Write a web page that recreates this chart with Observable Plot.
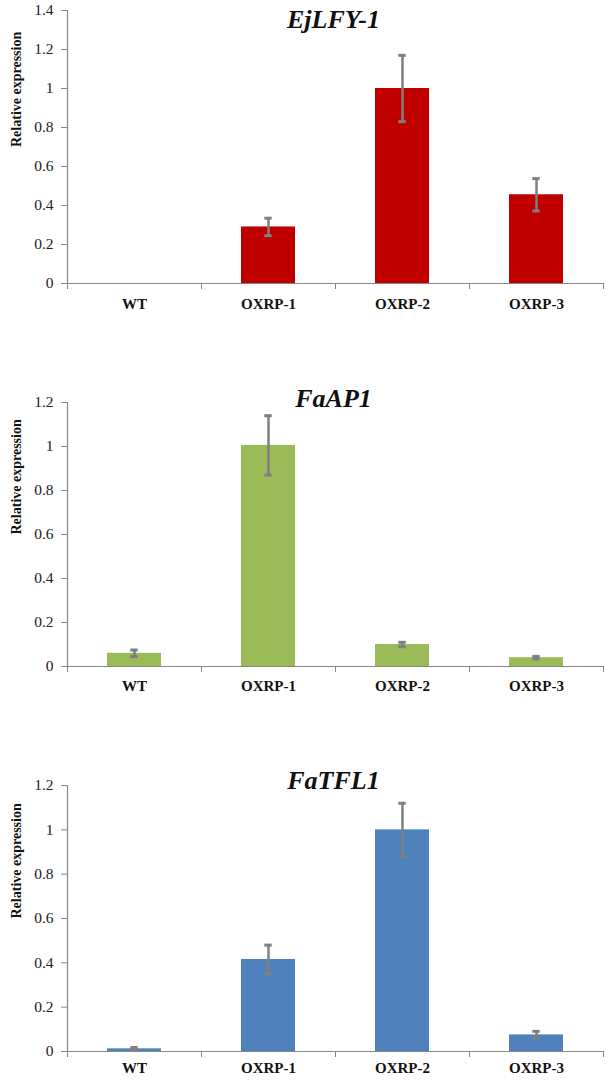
<!DOCTYPE html>
<html>
<head>
<meta charset="utf-8">
<script src="https://cdn.jsdelivr.net/npm/d3@7"></script>
<script src="https://cdn.jsdelivr.net/npm/@observablehq/plot@0.6"></script>
<style>
  html, body { margin: 0; padding: 0; background: #fff; }
  #charts { width: 606px; }
  #charts svg { display: block; }
  #charts svg, #charts svg text { font-family: "Liberation Serif", "Times New Roman", serif !important; }
</style>
</head>
<body>
<div id="charts"></div>
<script>
const categories = ["WT", "OXRP-1", "OXRP-2", "OXRP-3"];
const lfyValues = [0, 0.29, 1.0, 0.455];
const lfyErrors = [0, 0.045, 0.17, 0.083];
const ap1Values = [0.06, 1.005, 0.10, 0.04];
const ap1Errors = [0.015, 0.135, 0.01, 0.006];
const tflValues = [0.012, 0.415, 1.0, 0.075];
const tflErrors = [0.006, 0.065, 0.12, 0.016];
const yTicks14 = [0, 0.2, 0.4, 0.6, 0.8, 1, 1.2, 1.4];
const yTicks12 = [0, 0.2, 0.4, 0.6, 0.8, 1, 1.2];
const yLabel = "Relative expression";

const W = 606, ML = 67, MR = 3;
const step = (W - ML - MR) / categories.length;
const barPad = 0.6;
const capWidth = 7;
const capInset = (step * (1 - barPad) - capWidth) / 2;
const axisColor = "#868686";
const errColor = "#7f7f7f";
const font = "Liberation Serif";

const charts = [
  {title: "EjLFY-1", values: lfyValues, errors: lfyErrors, color: "#C00000", yMax: 1.4, ticks: yTicks14, height: 340, mt: 10, mb: 57, titleDy: 9, xPad: 15},
  {title: "FaAP1", values: ap1Values, errors: ap1Errors, color: "#9BBB59", yMax: 1.2, ticks: yTicks12, height: 360, mt: 62, mb: 34, titleDy: -4, xPad: 14},
  {title: "FaTFL1", values: tflValues, errors: tflErrors, color: "#4F81BD", yMax: 1.2, ticks: yTicks12, height: 380, mt: 85, mb: 29, titleDy: -5, xPad: 11}
];

const container = document.getElementById("charts");
for (const c of charts) {
  const rows = categories.map((k, i) => ({cat: k, v: c.values[i], e: c.errors[i]}));
  const errRows = rows.filter(d => d.e > 0);
  const plot = Plot.plot({
    width: W,
    height: c.height,
    marginLeft: ML,
    marginRight: MR,
    marginTop: c.mt,
    marginBottom: c.mb,
    style: {fontFamily: font, background: "#fff", color: "#222"},
    x: {domain: categories, paddingInner: barPad, paddingOuter: barPad / 2, axis: null},
    y: {domain: [0, c.yMax], axis: null},
    marks: [
      Plot.barY(rows, {x: "cat", y: "v", fill: c.color}),
      Plot.ruleX(errRows, {x: "cat", y1: d => d.v - d.e, y2: d => d.v + d.e, stroke: errColor, strokeWidth: 2.5}),
      Plot.tickY(errRows, {x: "cat", y: d => d.v + d.e, stroke: errColor, strokeWidth: 3, insetLeft: capInset, insetRight: capInset}),
      Plot.tickY(errRows, {x: "cat", y: d => d.v - d.e, stroke: errColor, strokeWidth: 3, insetLeft: capInset, insetRight: capInset}),
      // y axis line at left edge of first band
      Plot.ruleX([categories[0]], {x: d => d, y1: 0, y2: c.yMax, dx: -step / 2, stroke: axisColor, strokeWidth: 1.2}),
      Plot.axisY({ticks: c.ticks, tickFormat: d => String(d), tickSize: 6, tickPadding: 8, stroke: axisColor, fontSize: 15.5, label: null, fill: "#222", fontFamily: font}),
      // x axis
      Plot.ruleY([0], {stroke: axisColor, strokeWidth: 1.2}),
      Plot.axisX({ticks: categories, tickSize: 0, tickPadding: c.xPad, fontSize: 15, fontWeight: "bold", label: null, fill: "#111", fontFamily: font}),
      Plot.axisX({ticks: categories, tickSize: 6, tickFormat: () => "", dx: -step / 2, stroke: axisColor, label: null}),
      Plot.axisX({ticks: [categories[categories.length - 1]], tickSize: 6, tickFormat: () => "", dx: step / 2, stroke: axisColor, label: null}),
      // y label
      Plot.text([yLabel], {frameAnchor: "left", rotate: -90, dx: -51, fontWeight: "bold", fontSize: 14, fill: "#111", fontFamily: font}),
      // title
      Plot.text([c.title], {frameAnchor: "top", dy: c.titleDy, dx: -2, fontWeight: "bold", fontStyle: "italic", fontSize: 26, fill: "#111", lineAnchor: "middle", fontFamily: font})
    ]
  });
  container.appendChild(plot);
}
</script>
</body>
</html>
